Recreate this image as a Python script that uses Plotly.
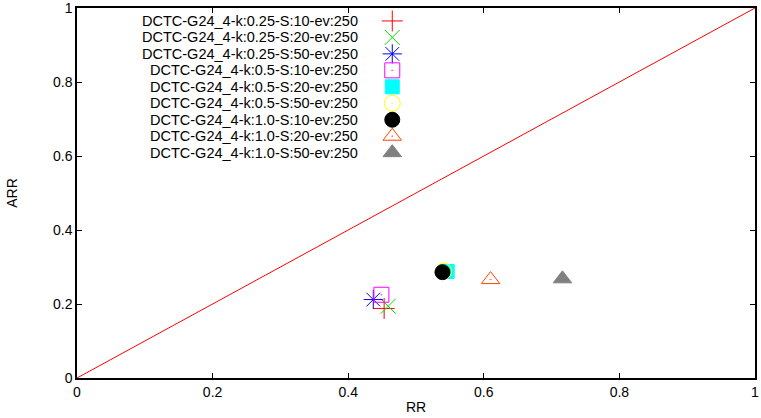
import plotly.graph_objects as go

# ---- data ----
series_names = [
    "DCTC-G24_4-k:0.25-S:10-ev:250",
    "DCTC-G24_4-k:0.25-S:20-ev:250",
    "DCTC-G24_4-k:0.25-S:50-ev:250",
    "DCTC-G24_4-k:0.5-S:10-ev:250",
    "DCTC-G24_4-k:0.5-S:20-ev:250",
    "DCTC-G24_4-k:0.5-S:50-ev:250",
    "DCTC-G24_4-k:1.0-S:10-ev:250",
    "DCTC-G24_4-k:1.0-S:20-ev:250",
    "DCTC-G24_4-k:1.0-S:50-ev:250",
]
rr_values = [0.453, 0.459, 0.437, 0.449, 0.546, 0.541, 0.539, 0.610, 0.716]
arr_values = [0.188, 0.194, 0.212, 0.225, 0.288, 0.289, 0.286, 0.266, 0.268]
diag_x = [0, 1]
diag_y = [0, 1]
tick_vals = [0, 0.2, 0.4, 0.6, 0.8, 1]
tick_text = ["0", "0.2", "0.4", "0.6", "0.8", "1"]

# ---- styles ----
symbols = ["cross-thin-open", "x-thin-open", "asterisk-open", "square-open-dot",
           "square", "circle-open-dot", "circle", "triangle-up-open-dot", "triangle-up"]
colors = ["#ff0000", "#00e000", "#0000ff", "#ff00ff", "#00ffff",
          "#ffff00", "#000000", "#ff4500", "#808080"]
sizes = [15, 15, 16, 15, 14, 16, 15, 16, 16]

FONT = "Liberation Sans, Arial, sans-serif"
LEG_TEXT_X = 0.417
LEG_MARK_X = 0.465
LEG_TOP = 0.965
LEG_STEP = 0.0445

fig = go.Figure()
fig.add_trace(go.Scatter(x=diag_x, y=diag_y, mode="lines",
                         line=dict(color="#ff0000", width=1), showlegend=False,
                         hoverinfo="skip"))

for i, name in enumerate(series_names):
    mk = dict(symbol=symbols[i], size=sizes[i], color=colors[i],
              line=dict(color=colors[i], width=1))
    fig.add_trace(go.Scatter(x=[rr_values[i]], y=[arr_values[i]], mode="markers",
                             marker=mk, name=name, showlegend=False))
    ly = LEG_TOP - i * LEG_STEP
    fig.add_trace(go.Scatter(x=[LEG_MARK_X], y=[ly], mode="markers",
                             marker=mk, showlegend=False, hoverinfo="skip"))
    fig.add_annotation(x=LEG_TEXT_X, y=ly, xref="x", yref="y", text=name,
                       showarrow=False, xanchor="right", yanchor="middle",
                       font=dict(family=FONT, size=14.5, color="#000000"))

axis_common = dict(range=[0, 1], tickvals=tick_vals, ticktext=tick_text,
                   ticks="inside", ticklen=5, tickcolor="#000000", tickwidth=1,
                   showline=True, linecolor="#000000", linewidth=1.5, mirror="ticks",
                   showgrid=False, zeroline=False, ticklabeloverflow="allow",
                   automargin=False,
                   tickfont=dict(family=FONT, size=14, color="#000000"))

fig.update_layout(
    width=761, height=418,
    margin=dict(l=77, r=6, t=8, b=40),
    paper_bgcolor="white", plot_bgcolor="white",
    xaxis=dict(title=dict(text="RR", font=dict(family=FONT, size=14, color="#000000"),
                          standoff=4), **axis_common),
    yaxis=dict(title=dict(text="ARR", font=dict(family=FONT, size=14, color="#000000"),
                          standoff=32), **axis_common),
    showlegend=False,
)

fig.write_html("out.html")
